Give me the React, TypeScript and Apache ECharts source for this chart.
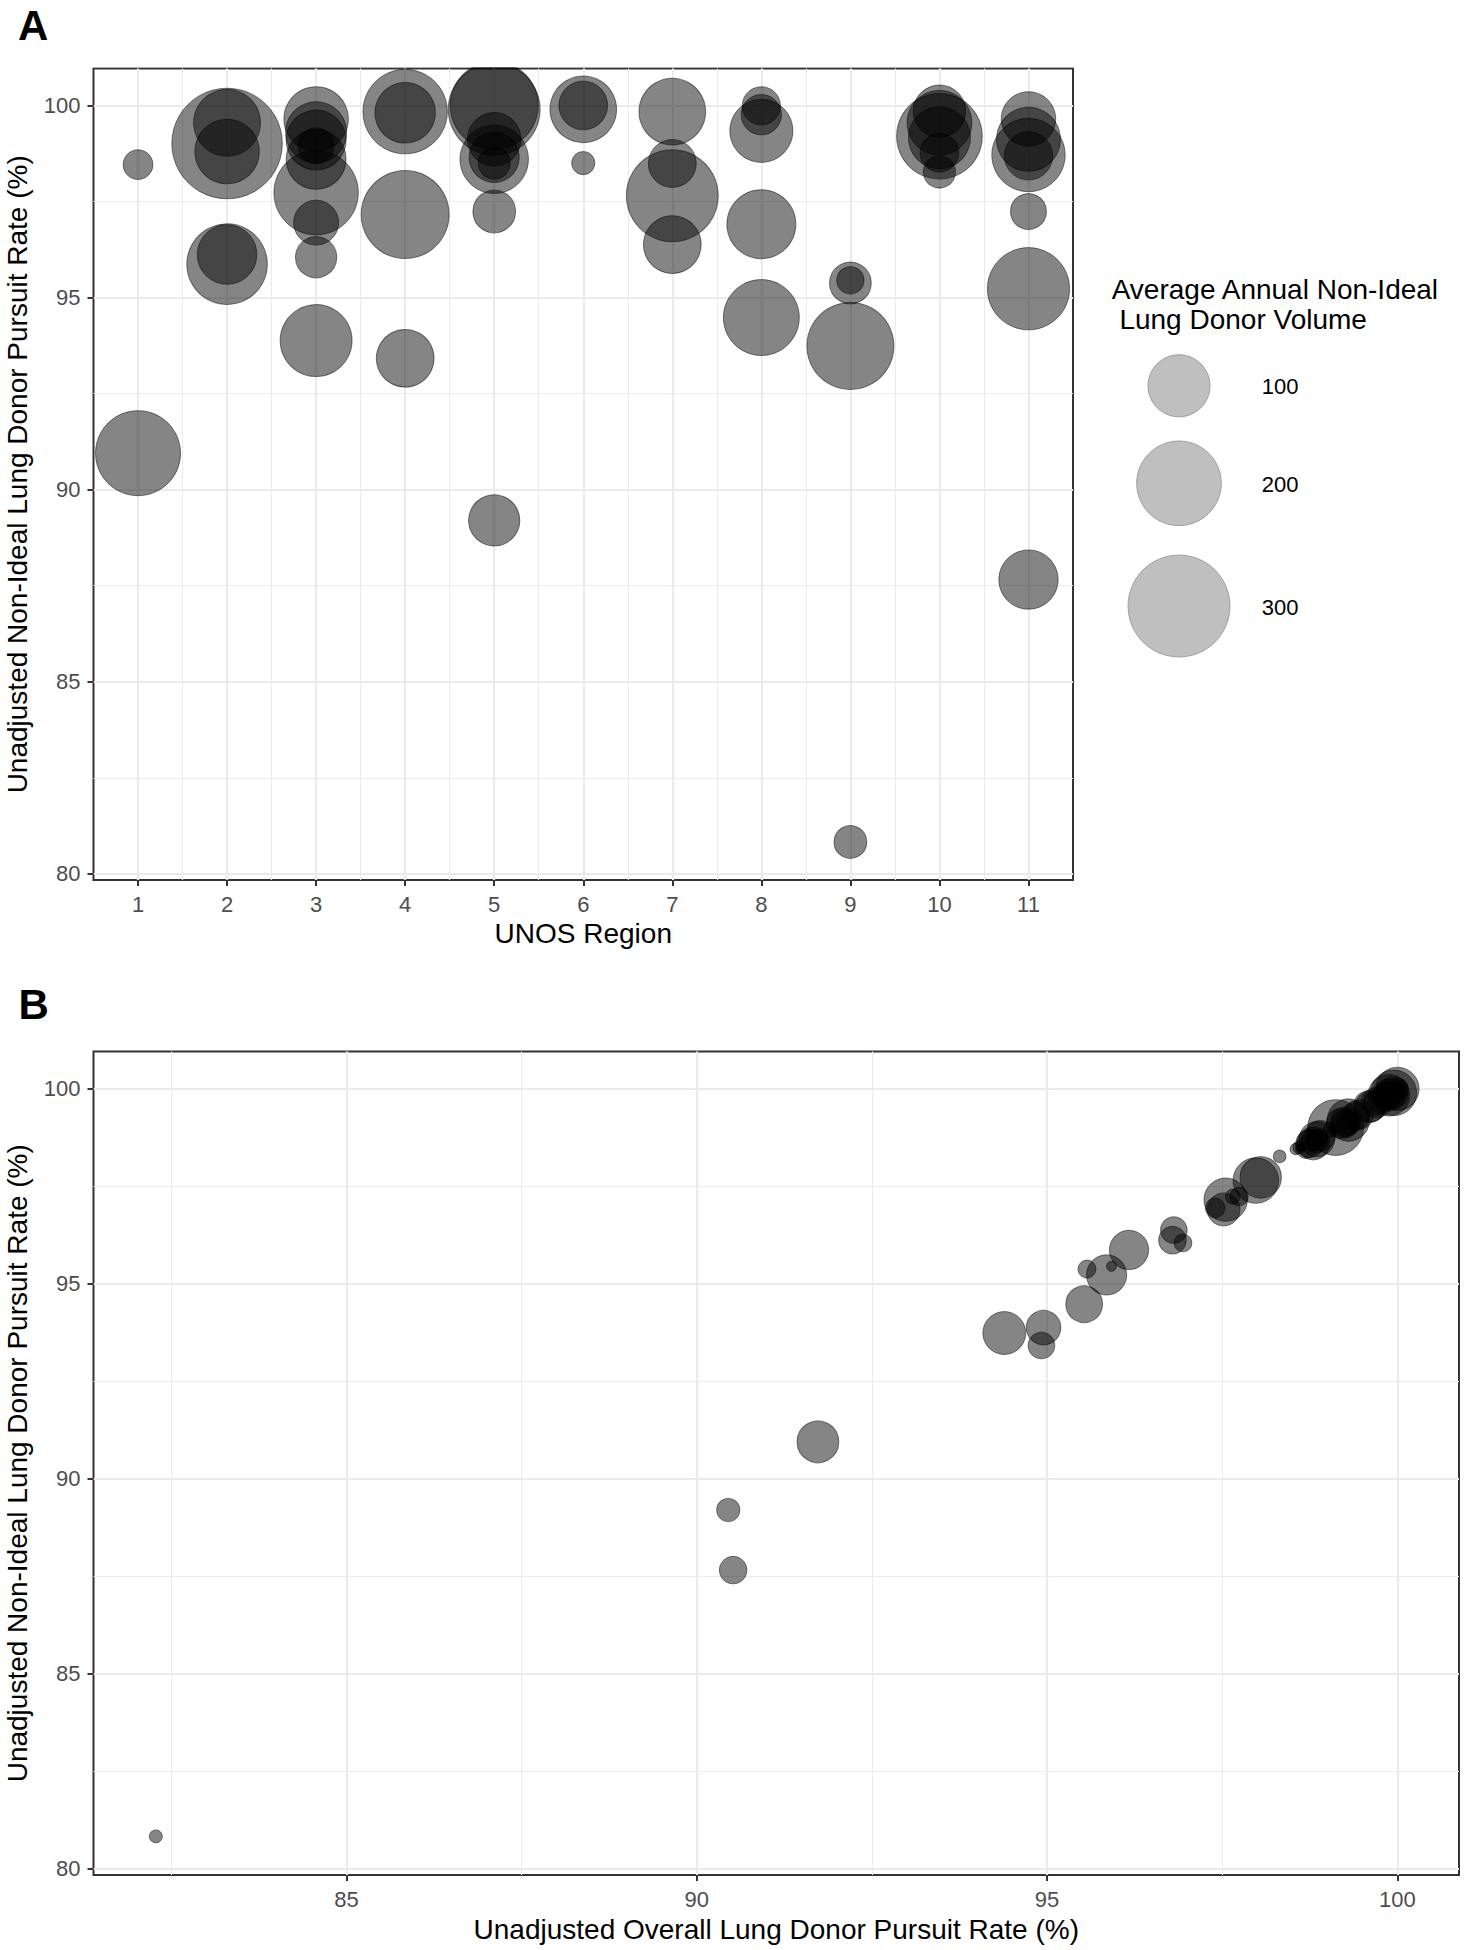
import React, { useEffect, useRef } from "react";
import * as echarts from "echarts";

// ---------- data ----------
const regionTicks = [1, 2, 3, 4, 5, 6, 7, 8, 9, 10, 11];
const rateTicks = [80, 85, 90, 95, 100];
const overallTicks = [85, 90, 95, 100];
const legendVolumes = [100, 200, 300];

// one entry per transplant program
const region = [
  1, 1,
  2, 2, 2, 2, 2,
  3, 3, 3, 3, 3, 3, 3, 3, 3,
  4, 4, 4, 4,
  5, 5, 5, 5, 5, 5, 5, 5,
  6, 6, 6,
  7, 7, 7, 7,
  8, 8, 8, 8, 8,
  9, 9, 9, 9,
  10, 10, 10, 10, 10, 10,
  11, 11, 11, 11, 11, 11, 11,
];

const nonIdealRate = [
  98.46, 90.95,
  99.01, 99.55, 98.8, 95.87, 96.12,
  99.65, 99.3, 99.1, 98.95, 98.6, 97.73, 96.95, 96.05, 93.88,
  99.84, 99.81, 97.16, 93.42,
  99.9, 100.0, 99.12, 98.6, 98.65, 98.5, 97.24, 89.2,
  99.9, 100.0, 98.5,
  99.84, 98.49, 97.65, 96.38,
  99.99, 99.76, 99.34, 96.91, 94.48,
  95.38, 95.45, 93.74, 80.83,
  99.2, 99.85, 99.55, 99.16, 98.77, 98.27,
  99.65, 99.12, 98.71, 98.69, 97.24, 95.23, 87.66,
];

const overallRate = [
  98.55, 91.73,
  99.12, 99.6, 98.9, 96.17, 96.79,
  99.7, 99.4, 99.25, 99.05, 98.75, 98.05, 97.4, 96.94, 94.95,
  99.88, 99.85, 97.55, 94.92,
  99.95, 100.0, 99.3, 98.8, 98.85, 98.6, 97.74, 90.45,
  99.93, 100.0, 98.62,
  99.88, 98.7, 97.98, 96.81,
  100.0, 99.8, 99.45, 97.52, 95.53,
  95.57, 95.92, 94.39, 82.28,
  99.3, 99.88, 99.62, 99.25, 98.9, 98.32,
  99.7, 99.2, 98.85, 98.78, 97.65, 95.85, 90.52,
];

const volume = [
  13, 187,
  337, 107, 98, 165, 81,
  98, 86, 82, 22, 82, 184, 40, 32, 127,
  184, 84, 202, 75,
  223, 202, 62, 113, 53, 16, 35, 56,
  106, 49, 6,
  106, 47, 223, 75,
  26, 30, 93, 115, 144,
  33, 10, 197, 17,
  190, 59, 99, 89, 27, 16,
  65, 96, 133, 48, 22, 173, 80,
];

// ---------- styling / scales ----------
const FONT = "'Liberation Sans', Arial, Helvetica, sans-serif";
const VOL_MIN = 1;
const VOL_MAX = 340;

function sizeScale(v: number, dMin: number, dSpan: number) {
  const t = Math.max(v - VOL_MIN, 0) / (VOL_MAX - VOL_MIN);
  return dMin + dSpan * Math.sqrt(t);
}
const sizeA = (v: number) => sizeScale(v, 11, 100);
const sizeB = (v: number) => sizeScale(v, 1, 55);

const BUBBLE = {
  color: "rgba(0,0,0,0.6)",
  borderColor: "rgba(0,0,0,0.6)",
  borderWidth: 1,
};

function valueAxis(p: {
  gridIndex: number;
  min: number;
  max: number;
  step: number;
  ticks: number[];
  name: string;
  nameGap: number;
}) {
  return {
    type: "value",
    gridIndex: p.gridIndex,
    min: p.min,
    max: p.max,
    minInterval: p.step,
    maxInterval: p.step,
    splitNumber: 5,
    axisLine: { show: false },
    axisTick: {
      show: true,
      length: 6,
      customValues: p.ticks,
      lineStyle: { color: "#333333", width: 2 },
    },
    axisLabel: {
      customValues: p.ticks,
      color: "#4D4D4D",
      fontSize: 22,
      fontFamily: FONT,
      margin: 13,
    },
    splitLine: { show: true, lineStyle: { color: "#EBEBEB", width: 2.2 } },
    minorTick: { show: false, splitNumber: 2 },
    minorSplitLine: { show: true, lineStyle: { color: "#EBEBEB", width: 1.1 } },
    name: p.name,
    nameLocation: "middle",
    nameGap: p.nameGap,
    nameTextStyle: { color: "#000000", fontSize: 28, fontFamily: FONT },
  };
}

const GRID_STYLE = {
  show: true,
  borderColor: "#333333",
  borderWidth: 2,
  backgroundColor: "transparent",
  containLabel: false,
  outerBoundsMode: "none",
};

export default function App() {
  const ref = useRef<HTMLDivElement | null>(null);

  useEffect(() => {
    if (!ref.current) return;
    const chart = echarts.init(ref.current, null, { renderer: "svg" });

    const dataA = region.map((r, i) => [r, nonIdealRate[i], volume[i]]);
    const dataB = overallRate.map((x, i) => [x, nonIdealRate[i], volume[i]]);

    const legendCenters = [385.8, 483.3, 606];
    const legendGraphics: any[] = [];
    legendVolumes.forEach((v, i) => {
      legendGraphics.push({
        type: "circle",
        shape: { cx: 1179, cy: legendCenters[i], r: sizeA(v) / 2 - 1.5 },
        style: { fill: "#BFBFBF", stroke: "#A0A0A0", lineWidth: 1 },
        z: 10,
      });
      legendGraphics.push({
        type: "text",
        x: 1261.7,
        y: legendCenters[i] + 1,
        style: {
          text: String(v),
          fill: "#000000",
          font: `22px ${FONT}`,
          textAlign: "left",
          verticalAlign: "middle",
          textVerticalAlign: "middle",
        },
        z: 10,
      });
    });

    const option: any = {
      animation: false,
      backgroundColor: "#ffffff",
      grid: [
        { left: 93.5, top: 68.6, width: 979.5, height: 811.4, ...GRID_STYLE },
        { left: 93.5, top: 1051.5, width: 1365.5, height: 823.5, ...GRID_STYLE },
      ],
      xAxis: [
        valueAxis({
          gridIndex: 0,
          min: 0.5,
          max: 11.5,
          step: 1,
          ticks: regionTicks,
          name: "UNOS Region",
          nameGap: 39,
        }),
        valueAxis({
          gridIndex: 1,
          min: 81.39,
          max: 100.88,
          step: 5,
          ticks: overallTicks,
          name: "Unadjusted Overall Lung Donor Pursuit Rate (%)",
          nameGap: 40,
        }),
      ],
      yAxis: [
        valueAxis({
          gridIndex: 0,
          min: 79.84,
          max: 100.96,
          step: 5,
          ticks: rateTicks,
          name: "Unadjusted Non-Ideal Lung Donor Pursuit Rate (%)",
          nameGap: 62,
        }),
        valueAxis({
          gridIndex: 1,
          min: 79.84,
          max: 100.96,
          step: 5,
          ticks: rateTicks,
          name: "Unadjusted Non-Ideal Lung Donor Pursuit Rate (%)",
          nameGap: 62,
        }),
      ],
      series: [
        {
          type: "scatter",
          xAxisIndex: 0,
          yAxisIndex: 0,
          data: dataA,
          symbol: "circle",
          symbolSize: (val: number[]) => sizeA(val[2]),
          itemStyle: BUBBLE,
          silent: true,
          z: 2,
        },
        {
          type: "scatter",
          xAxisIndex: 1,
          yAxisIndex: 1,
          data: dataB,
          symbol: "circle",
          symbolSize: (val: number[]) => sizeB(val[2]),
          itemStyle: BUBBLE,
          silent: true,
          z: 2,
        },
      ],
      graphic: [
        // mask for bubbles overflowing the top of panel A (ggplot clips to the panel)
        {
          type: "rect",
          shape: { x: 92, y: 0, width: 983, height: 67.2 },
          style: { fill: "#ffffff" },
          z: 50,
          silent: true,
        },
        {
          type: "text",
          x: 18,
          y: 25.5,
          style: {
            text: "A",
            fill: "#000000",
            font: `bold 42px ${FONT}`,
            lineHeight: 34,
            verticalAlign: "middle",
            textVerticalAlign: "middle",
          },
          z: 60,
        },
        {
          type: "text",
          x: 18.5,
          y: 1004,
          style: {
            text: "B",
            fill: "#000000",
            font: `bold 42px ${FONT}`,
            lineHeight: 34,
            verticalAlign: "middle",
            textVerticalAlign: "middle",
          },
          z: 60,
        },
        {
          type: "text",
          x: 1111.7,
          y: 289.3,
          style: {
            text: "Average Annual Non-Ideal",
            fill: "#000000",
            font: `28px ${FONT}`,
            verticalAlign: "middle",
            textVerticalAlign: "middle",
          },
          z: 10,
        },
        {
          type: "text",
          x: 1119.4,
          y: 319.6,
          style: {
            text: "Lung Donor Volume",
            fill: "#000000",
            font: `28px ${FONT}`,
            verticalAlign: "middle",
            textVerticalAlign: "middle",
          },
          z: 10,
        },
        ...legendGraphics,
      ],
    };

    chart.setOption(option);
    return () => {
      chart.dispose();
    };
  }, []);

  return (
    <div
      ref={ref}
      style={{ position: "absolute", left: 0, top: 0, width: 1469, height: 1950 }}
    />
  );
}
